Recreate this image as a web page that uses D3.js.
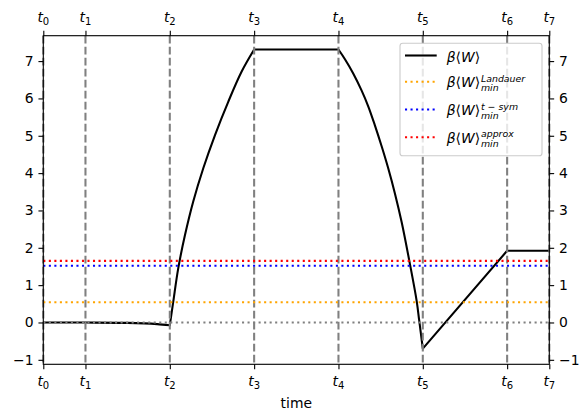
<!DOCTYPE html>
<html>
<head>
<meta charset="utf-8">
<script src="https://cdn.jsdelivr.net/npm/d3@7"></script>
<style>
  body { margin: 0; background: #fff; }
  text { font-family: "DejaVu Sans", sans-serif; }
</style>
</head>
<body>
<svg id="chart" width="588" height="411"></svg>
<script>
// time marks t0..t7 (in units of the protocol step)
const timeTicks = [0, 0.5, 1.5, 2.5, 3.5, 4.5, 5.5, 6];
const timeLabels = ["0", "1", "2", "3", "4", "5", "6", "7"];
const yTicks = [-1, 0, 1, 2, 3, 4, 5, 6, 7];

const segStart = [[0, 0], [0.5, -0.002], [1.0, -0.01], [1.2, -0.025], [1.35, -0.045], [1.5, -0.075]];
const segRise = [[1.5, -0.075], [1.541, 0.556], [1.6, 1.45], [1.68, 2.34], [1.778, 3.24], [1.897, 4.13],
                 [2.036, 5.02], [2.193, 5.91], [2.352, 6.72], [2.5, 7.31]];
const segHold = [[2.5, 7.31], [3.5, 7.31]];
const segFall = [[3.5, 7.31], [3.577, 7.05], [3.675, 6.67], [3.775, 6.21], [3.853, 5.79], [3.932, 5.28],
                 [4.012, 4.72], [4.09, 4.13], [4.17, 3.45], [4.249, 2.69], [4.347, 1.57], [4.427, 0.58],
                 [4.457, 0.06], [4.5, -0.70]];
const segRamp = [[4.5, -0.70], [5.5, 1.92]];
const segEnd = [[5.5, 1.92], [6, 1.92]];

// minimum bounds
const boundNames = ["Landauer", "t − sym", "approx"];
const boundValues = [0.54, 1.52, 1.65];
const boundColors = ["orange", "blue", "red"];

const svg = d3.select("#chart");
const mLeft = 43.3, mRight = 549.3, mTop = 35.7, mBottom = 364.3;

const x = d3.scaleLinear().domain([0, 6]).range([mLeft, mRight]);
const y = d3.scaleLinear().domain([-1.12, 7.68]).range([mBottom, mTop]);

const plot = svg.append("g");

// black curve
const line = d3.line().x(d => x(d[0])).y(d => y(d[1])).curve(d3.curveCatmullRom.alpha(0.5));
const pathD = [segStart, segRise, segHold, segFall, segRamp, segEnd]
    .map((s, i) => {
        let p = line(s);
        return i === 0 ? p : "L" + p.slice(1);
    }).join("");
plot.append("path")
    .attr("d", pathD)
    .attr("fill", "none")
    .attr("stroke", "black")
    .attr("stroke-width", 2.08)
    .attr("stroke-linejoin", "round");

// dashed time markers
plot.selectAll(".tline")
    .data(timeTicks)
    .enter()
    .append("line")
    .attr("class", "tline")
    .attr("x1", d => x(d)).attr("x2", d => x(d))
    .attr("y1", mTop).attr("y2", mBottom)
    .attr("stroke", "#808080")
    .attr("stroke-width", 2.08)
    .attr("stroke-dasharray", "7.7,3.3");

// zero line + bounds
plot.append("line")
    .attr("x1", mLeft).attr("x2", mRight)
    .attr("y1", y(0)).attr("y2", y(0))
    .attr("stroke", "#808080")
    .attr("stroke-width", 2.08)
    .attr("stroke-dasharray", "2.08,3.44");

boundValues.forEach((v, i) => {
    plot.append("line")
        .attr("x1", mLeft).attr("x2", mRight)
        .attr("y1", y(v)).attr("y2", y(v))
        .attr("stroke", boundColors[i])
        .attr("stroke-width", 2.08)
        .attr("stroke-dasharray", "2.08,3.44");
});

// axes
const fs = "13.9px";
svg.append("g")
    .attr("transform", `translate(${mLeft},0)`)
    .call(d3.axisLeft(y).tickValues(yTicks).tickSize(4.86).tickPadding(4.86)
        .tickFormat(d => d < 0 ? "\u2212" + Math.abs(d) : d));
svg.append("g")
    .attr("transform", `translate(${mRight},0)`)
    .call(d3.axisRight(y).tickValues(yTicks).tickSize(4.86).tickPadding(4.86)
        .tickFormat(d => d < 0 ? "\u2212" + Math.abs(d) : d));
svg.append("g")
    .attr("transform", `translate(0,${mBottom})`)
    .call(d3.axisBottom(x).tickValues(timeTicks).tickSize(4.86).tickFormat(""));
svg.append("g")
    .attr("transform", `translate(0,${mTop})`)
    .call(d3.axisTop(x).tickValues(timeTicks).tickSize(4.86).tickFormat(""));

svg.selectAll(".domain").remove();
svg.selectAll(".tick line").attr("stroke", "black").attr("stroke-width", 1.11);
svg.selectAll(".tick text")
    .style("font-size", fs)
    .style("font-family", '"DejaVu Sans", sans-serif')
    .attr("fill", "black");

// frame
svg.append("rect")
    .attr("x", mLeft).attr("y", mTop)
    .attr("width", mRight - mLeft).attr("height", mBottom - mTop)
    .attr("fill", "none")
    .attr("stroke", "black")
    .attr("stroke-width", 1.11);

// t_i labels top and bottom
[22.3, 386].forEach(by => {
    timeTicks.forEach((t, i) => {
        const txt = svg.append("text")
            .attr("x", x(t))
            .attr("y", by)
            .attr("text-anchor", "middle")
            .style("font-size", fs);
        txt.append("tspan").style("font-style", "italic").text("t");
        txt.append("tspan").attr("dy", 2.8).style("font-size", "10px").text(timeLabels[i]);
    });
});

svg.append("text")
    .attr("x", (mLeft + mRight) / 2)
    .attr("y", 407.5)
    .attr("text-anchor", "middle")
    .style("font-size", fs)
    .text("time");

// legend
const lg = svg.append("g");
lg.append("rect")
    .attr("x", 400).attr("y", 43.3)
    .attr("width", 142).attr("height", 112.4)
    .attr("rx", 2.8)
    .attr("fill", "white").attr("fill-opacity", 0.8)
    .attr("stroke", "#cccccc").attr("stroke-width", 1.11);

const rows = [
    { base: 62, color: "black", dash: null, sup: null },
    { base: 87.3, color: boundColors[0], dash: "2.08,3.44", sup: boundNames[0] },
    { base: 115, color: boundColors[1], dash: "2.08,3.44", sup: boundNames[1] },
    { base: 142.7, color: boundColors[2], dash: "2.08,3.44", sup: boundNames[2] }
];

rows.forEach(r => {
    const cy = r.sup ? r.base - 5.5 : r.base - 6.5;
    const ln = lg.append("line")
        .attr("x1", 405).attr("x2", 436.7)
        .attr("y1", cy).attr("y2", cy)
        .attr("stroke", r.color).attr("stroke-width", 2.08);
    if (r.dash) ln.attr("stroke-dasharray", r.dash);

    const main = lg.append("text")
        .attr("x", 446.7).attr("y", r.base)
        .style("font-size", fs);
    main.append("tspan").style("font-style", "italic").text("β");
    main.append("tspan").text("⟨");
    main.append("tspan").style("font-style", "italic").text("W");
    main.append("tspan").text("⟩");

    if (r.sup) {
        const w = main.node().getComputedTextLength();
        lg.append("text")
            .attr("x", 446.7 + w + 0.8).attr("y", r.base - 5.5)
            .style("font-size", "9.4px").style("font-style", "italic")
            .text(r.sup);
        lg.append("text")
            .attr("x", 446.7 + w + 0.8).attr("y", r.base + 4)
            .style("font-size", "9.4px").style("font-style", "italic")
            .text("min");
    }
});
</script>
</body>
</html>
